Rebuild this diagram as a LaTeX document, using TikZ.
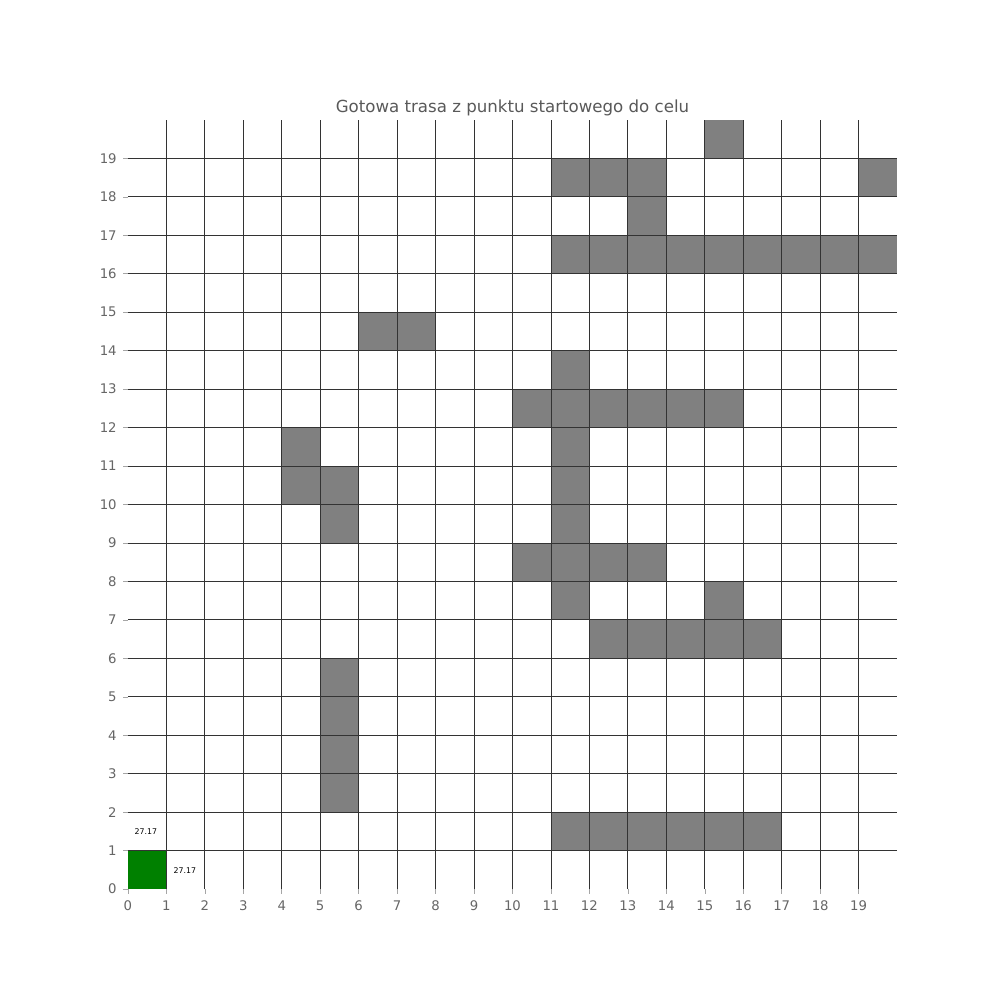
\documentclass[tikz,border=0pt]{standalone}
\usepackage{fontspec}
\setmainfont{DejaVu Sans}
\usetikzlibrary{positioning}
\tikzset{
  % Map cells
  wallcell/.style={fill=black!50, draw=none},
  startcell/.style={fill=green!50!black, draw=none},
  % Grid and axes
  gridline/.style={draw=black!80, line width=0.6pt},
  tickmark/.style={draw=black!35, line width=0.4pt},
  ticklabel/.style={font=\fontsize{9.8}{11}\selectfont, text=black!60, inner sep=1pt},
  % Texts
  titlelabel/.style={font=\fontsize{12.3}{14}\selectfont, text=black!65, inner sep=0pt},
  costlabel/.style={font=\fontsize{5.8}{7}\selectfont, text=black, inner sep=0pt},
}
\begin{document}
\begin{tikzpicture}
  \useasboundingbox[fill=white] (-3.325,-2.883) rectangle (22.65,23.117);

  % Obstacles
  \foreach \cx/\cy in {15/19, 11/18, 12/18, 13/18, 19/18, 13/17,
      11/16, 12/16, 13/16, 14/16, 15/16, 16/16, 17/16, 18/16, 19/16,
      6/14, 7/14, 11/13, 10/12, 11/12, 12/12, 13/12, 14/12, 15/12,
      4/11, 11/11, 4/10, 5/10, 11/10, 5/9, 11/9,
      10/8, 11/8, 12/8, 13/8, 11/7, 15/7,
      12/6, 13/6, 14/6, 15/6, 16/6,
      5/5, 5/4, 5/3, 5/2,
      11/1, 12/1, 13/1, 14/1, 15/1, 16/1}
    \fill[wallcell] (\cx,\cy) rectangle ++(1,1);

  % Start cell
  \fill[startcell] (0,0) rectangle (1,1);

  % Grid
  \foreach \k in {1,...,19} {
    \draw[gridline] (\k,0) -- (\k,20);
    \draw[gridline] (0,\k) -- (20,\k);
  }

  % Ticks and tick labels
  \foreach \k in {0,...,19} {
    \draw[tickmark] (\k,0) -- (\k,-0.13);
    \draw[tickmark] (0,\k) -- (-0.13,\k);
    \node[ticklabel, anchor=north] (xtick\k) at (\k,-0.25) {\k};
    \node[ticklabel, anchor=east] (ytick\k) at (-0.25,\k) {\k};
  }

  % Title
  \node[titlelabel, anchor=base] (title) at (10,20.2) {Gotowa trasa z punktu startowego do celu};

  % Path costs
  \node[costlabel] (costup) at (0.47,1.5) {27.17};
  \node[costlabel] (costright) at (1.48,0.49) {27.17};
\end{tikzpicture}
\end{document}
